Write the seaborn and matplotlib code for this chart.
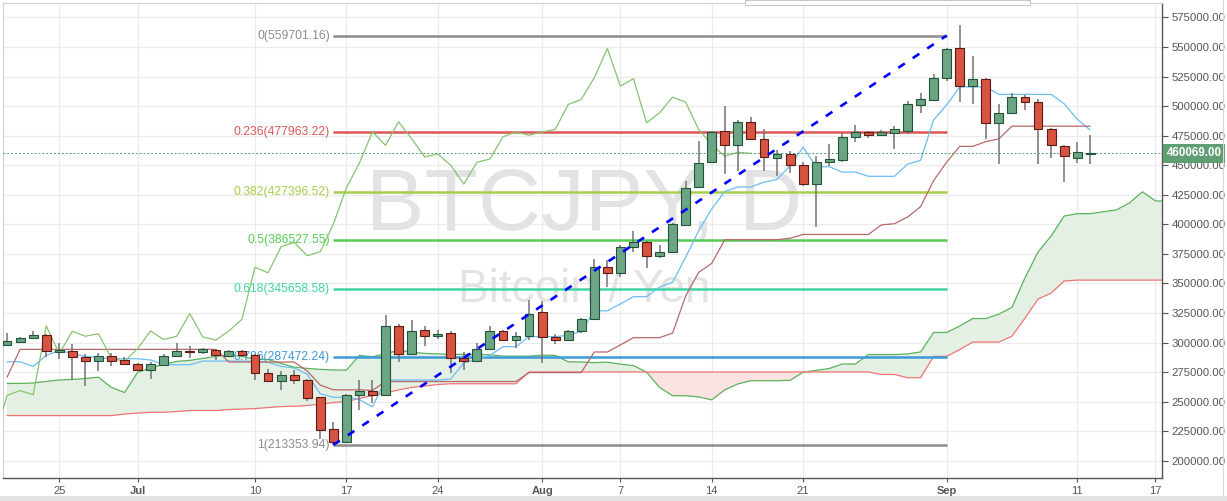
import numpy as np
import pandas as pd
import matplotlib
matplotlib.use("Agg")
import matplotlib.pyplot as plt
import matplotlib.transforms as mtransforms
from matplotlib.patches import Rectangle
from matplotlib.lines import Line2D
from matplotlib import font_manager
import seaborn as sns

# ---------------- data (prices in thousand JPY) ----------------
start_date = "2017-06-21"
opens = [298.0, 300.4, 303.6, 306.4, 292.0, 293.1, 287.7, 284.3, 288.5, 285.5,
         282.1, 277.0, 281.2, 288.5, 293.1, 292.0, 294.0, 288.5, 292.8, 289.1,
         274.5, 267.1, 272.8, 267.9, 253.7, 226.9, 216.1, 255.2, 259.4, 255.8,
         314.0, 290.6, 310.4, 305.3, 308.4, 287.2, 284.0, 294.8, 309.8, 301.9,
         305.3, 325.4, 304.4, 301.9, 309.8, 319.7, 363.6, 358.5, 381.1, 384.8,
         373.4, 376.8, 399.5, 431.2, 452.7, 478.7, 466.8, 486.7, 472.5, 456.1,
         459.5, 450.0, 434.0, 452.4, 454.7, 474.0, 478.2, 475.3, 477.4, 478.7,
         500.8, 505.0, 524.0, 549.5, 516.9, 523.2, 485.9, 494.3, 507.6, 503.3,
         480.7, 466.6, 456.1, 459.5]
highs = [307.8, 305.0, 309.8, 307.5, 299.9, 299.1, 290.6, 291.4, 291.4, 287.7,
         282.5, 283.5, 290.0, 299.6, 297.0, 295.5, 294.8, 294.0, 294.0, 290.0,
         277.8, 275.6, 277.0, 268.8, 254.0, 232.5, 256.6, 267.9, 268.0, 323.1,
         315.5, 318.9, 313.8, 310.4, 309.5, 292.0, 299.6, 313.8, 311.0, 308.9,
         335.8, 335.0, 307.5, 310.4, 321.1, 370.6, 369.8, 382.5, 394.7, 385.5,
         382.5, 401.0, 436.3, 470.2, 479.0, 499.9, 488.6, 490.9, 480.7, 463.2,
         461.7, 453.0, 457.5, 468.3, 477.4, 483.6, 479.0, 480.0, 483.0, 504.2,
         510.7, 526.9, 549.5, 568.5, 542.4, 524.0, 501.4, 511.3, 509.0, 506.2,
         481.6, 467.4, 469.4, 475.9]
lows = [297.0, 300.0, 303.0, 287.4, 286.0, 268.5, 262.8, 275.6, 280.4, 280.6,
        276.0, 269.0, 280.6, 287.7, 287.2, 290.6, 285.5, 288.0, 288.0, 268.5,
        267.0, 260.0, 265.0, 250.9, 218.4, 213.4, 215.0, 242.5, 248.6, 255.0,
        283.5, 289.1, 297.0, 302.7, 274.1, 276.4, 283.5, 294.0, 301.0, 295.7,
        301.9, 282.9, 299.0, 301.0, 308.0, 319.0, 347.1, 355.6, 376.8, 363.3,
        371.2, 376.0, 399.0, 430.7, 452.0, 442.5, 444.8, 471.1, 444.8, 440.5,
        443.4, 432.0, 397.5, 449.6, 452.4, 469.7, 472.7, 474.6, 463.8, 476.6,
        494.3, 504.2, 521.0, 503.7, 502.0, 472.3, 451.3, 492.9, 497.1, 451.3,
        456.1, 435.4, 451.9, 451.3]
closes = [301.0, 303.8, 306.7, 292.8, 294.0, 287.7, 284.3, 288.9, 284.3, 282.1,
          276.7, 281.5, 288.5, 292.8, 292.0, 294.2, 289.1, 292.8, 289.4, 274.1,
          267.1, 272.8, 267.9, 253.2, 226.3, 216.1, 255.2, 259.4, 255.8, 314.0,
          290.6, 309.5, 305.3, 307.5, 286.8, 284.0, 294.8, 309.8, 302.5, 305.3,
          324.5, 304.7, 302.1, 309.8, 319.7, 363.6, 359.0, 381.1, 384.8, 373.4,
          376.8, 400.1, 430.7, 451.9, 478.2, 466.8, 486.7, 472.5, 457.0, 459.5,
          449.9, 434.0, 452.4, 455.3, 474.0, 478.2, 475.3, 478.2, 480.2, 501.4,
          505.6, 524.0, 548.7, 516.9, 523.2, 485.9, 494.3, 507.6, 503.3, 480.2,
          467.4, 457.5, 460.9, 460.069]

tenkan = [283.7, 283.7, 279.8, 289.1, 293.4, 290.6, 288.3, 287.4, 286.3, 286.3,
          286.3, 285.2, 281.4, 281.2, 281.2, 284.3, 284.3, 284.3, 284.3, 284.1,
          283.3, 279.8, 278.5, 273.2, 256.6, 253.7, 253.7, 251.7, 245.6, 268.3,
          268.3, 268.3, 268.3, 268.3, 269.1, 282.8, 285.9, 289.1, 296.5, 296.5,
          305.0, 305.0, 305.0, 306.1, 309.4, 326.8, 326.8, 332.7, 338.8, 338.8,
          346.9, 351.0, 372.2, 394.6, 413.1, 427.8, 431.6, 431.6, 435.6, 438.0,
          449.5, 465.3, 448.7, 448.7, 444.2, 444.2, 440.6, 440.6, 440.6, 450.9,
          454.1, 488.3, 501.0, 516.2, 516.2, 516.2, 509.9, 509.9, 509.9, 509.9,
          509.9, 502.0, 488.9, 479.7]
kijun = [270.7, 294.2, 294.2, 294.2, 294.2, 294.2, 294.2, 294.2, 294.2, 294.2,
         294.2, 294.2, 294.2, 294.2, 294.2, 294.2, 294.2, 283.5, 283.5, 283.5,
         283.5, 283.5, 283.5, 276.0, 264.0, 260.0, 260.0, 260.0, 259.5, 267.0,
         267.0, 267.0, 267.0, 267.0, 267.0, 267.0, 267.0, 267.0, 267.0, 267.0,
         274.6, 274.6, 274.6, 274.6, 274.6, 292.0, 292.0, 298.0, 304.1, 304.1,
         304.1, 308.0, 339.4, 359.4, 367.0, 387.0, 387.0, 387.0, 387.0, 387.0,
         388.2, 391.4, 391.4, 391.4, 391.4, 391.4, 391.4, 399.5, 400.5, 406.1,
         414.9, 437.0, 452.6, 465.9, 465.9, 469.9, 472.3, 483.0, 483.0, 483.0,
         483.0, 483.0, 483.0, 483.0]
senkou_a = [265.4, 265.4, 265.8, 267.1, 268.3, 268.8, 269.6, 270.7, 262.0, 257.7,
            274.7, 278.5, 281.5, 284.0, 284.9, 286.6, 288.3, 289.6, 288.3, 285.7,
            285.7, 282.3, 279.2, 278.1, 277.3, 276.8, 276.6, 289.1, 288.0, 290.6,
            293.4, 291.9, 290.8, 290.4, 290.0, 290.0, 290.0, 289.7, 288.5, 288.5,
            288.5, 289.3, 289.1, 283.7, 283.5, 283.0, 283.4, 281.7, 280.5, 275.0,
            262.0, 255.0, 255.0, 254.0, 251.5, 260.0, 265.0, 267.7, 267.7, 267.7,
            268.0, 274.9, 276.5, 278.0, 281.8, 281.8, 289.8, 289.8, 289.8, 290.4,
            292.0, 308.5, 308.5, 314.0, 320.3, 320.3, 324.0, 329.8, 354.7, 376.6,
            390.1, 407.0, 409.0, 409.0, 410.6, 412.2, 418.0, 427.5, 419.8, 419.5]
senkou_b = [238.2, 238.2, 238.2, 238.2, 238.2, 238.2, 238.2, 238.2, 238.2, 239.5,
            240.3, 241.0, 241.0, 241.6, 242.5, 242.5, 242.5, 243.3, 243.7, 244.1,
            245.0, 245.8, 246.1, 246.7, 247.9, 249.2, 250.1, 252.6, 255.2, 257.3,
            259.9, 262.0, 263.2, 264.5, 265.1, 265.1, 265.1, 265.1, 265.1, 265.1,
            275.1, 275.1, 275.1, 275.1, 275.1, 275.1, 275.1, 275.1, 275.1, 275.1,
            275.1, 275.1, 275.1, 275.1, 275.1, 275.1, 275.1, 275.1, 275.1, 275.1,
            275.1, 275.1, 275.1, 275.1, 275.1, 275.1, 275.1, 273.0, 273.0, 270.2,
            270.2, 288.3, 288.3, 294.0, 300.4, 300.4, 300.4, 305.3, 320.6, 336.7,
            341.8, 352.0, 352.8, 352.8, 352.8, 352.8, 352.8, 352.8, 352.8, 352.8]

fib_ratios = ["0", "0.236", "0.382", "0.5", "0.618", "0.786", "1"]
fib_prices = [559701.16, 477963.22, 427396.52, 386527.55, 345658.58, 287472.24, 213353.94]
fib_colors = ["#8c8c8c", "#dc5656", "#a6cf4c", "#55cc55", "#40d4a2", "#3b9ad8", "#8c8c8c"]
fib_start_date = "2017-07-16"
fib_end_date = "2017-09-01"

tick_dates = ["2017-06-25", "2017-07-01", "2017-07-10", "2017-07-17", "2017-07-24",
              "2017-08-01", "2017-08-07", "2017-08-14", "2017-08-21", "2017-09-01",
              "2017-09-11", "2017-09-17"]
tick_labels = ["25", "Jul", "10", "17", "24", "Aug", "7", "14", "21", "Sep", "11", "17"]
month_labels = ["Jul", "Aug", "Sep"]

last_price = 460069.00
watermark_title = "BTCJPY, D"
watermark_sub = "Bitcoin / Yen"

# ---------------- setup ----------------
sns.set_theme(style="white")
plt.rcParams["font.family"] = ["Liberation Sans", "DejaVu Sans"]

K = 1000.0
o = np.array(opens) * K
h = np.array(highs) * K
l = np.array(lows) * K
c = np.array(closes) * K
n = len(o)
dates = pd.date_range(start_date, periods=n, freq="D")
t0 = pd.Timestamp(start_date)
idx = np.arange(n)
idx_ext = np.arange(len(senkou_a))
sa = np.array(senkou_a) * K
sb = np.array(senkou_b) * K

def pos(d):
    return (pd.Timestamp(d) - t0).days

W, H = 1227, 501
fig = plt.figure(figsize=(W / 100, H / 100), dpi=100)
fig.patch.set_facecolor("white")
ax = fig.add_axes([3 / W, 23 / H, 1159 / W, 475 / H])
ax.set_facecolor("white")
ax.set_xlim(-0.31, 88.5)
ax.set_ylim(185400, 587200)

# grid
yt = np.arange(200000, 575001, 25000)
xt = [pos(d) for d in tick_dates]
for v in yt:
    ax.axhline(v, color="#ebebeb", lw=0.9, zorder=0)
for v in xt:
    ax.axvline(v, color="#ebebeb", lw=0.9, zorder=0)

# watermark
avail = {f.name for f in font_manager.fontManager.ttflist}
if "Liberation Sans Narrow" in avail:
    wm_fam, wm_size = "Liberation Sans Narrow", 74
else:
    wm_fam, wm_size = "Liberation Sans", 63
ax.text(44.2, 413800, watermark_title, fontsize=wm_size, family=wm_fam,
        color="#e3e3e3", ha="center", va="center", zorder=0.5)
ax.text(44.2, 344400, watermark_sub, fontsize=33, family="Liberation Sans",
        color="#e3e3e3", ha="center", va="center", zorder=0.5)

# ichimoku cloud
ax.fill_between(idx_ext, sa, sb, where=sa >= sb, interpolate=True,
                color="#e3f0e3", lw=0, zorder=1.5)
ax.fill_between(idx_ext, sa, sb, where=sa < sb, interpolate=True,
                color="#fde2e2", lw=0, zorder=1.5)
sns.lineplot(x=idx_ext, y=sa, ax=ax, color="#5cb35c", lw=0.9, zorder=2, legend=False)
sns.lineplot(x=idx_ext, y=sb, ax=ax, color="#f07474", lw=0.9, zorder=2, legend=False)

# fib retracement
fs, fe = pos(fib_start_date), pos(fib_end_date)
for r, p, col in zip(fib_ratios, fib_prices, fib_colors):
    ax.hlines(p, fs, fe, color=col, lw=1.8, zorder=2.5)
    ax.text(fs - 0.25, p, f"{r}({p:.2f})", color=col, fontsize=8.7,
            ha="right", va="center", zorder=2.6)

# other ichimoku lines
sns.lineplot(x=idx, y=np.array(tenkan) * K, ax=ax, color="#6cbdf5", lw=0.9, zorder=3, legend=False)
sns.lineplot(x=idx, y=np.array(kijun) * K, ax=ax, color="#b96868", lw=0.9, zorder=3, legend=False)
sns.lineplot(x=idx[25:] - 26, y=c[25:], ax=ax, color="#86c46f", lw=0.9, zorder=3, legend=False)

# current price line
ax.axhline(last_price, color="#4e9a66", lw=0.7, ls=(0, (2, 2)), zorder=3.5)

# candles
up = c >= o
ax.vlines(idx, l, h, color="#737375", lw=1.1, zorder=4)
ax.bar(idx[up], (c - o)[up], bottom=o[up], width=0.68, color="#6ba583",
       edgecolor="#225437", lw=0.8, zorder=5)
ax.bar(idx[~up], (o - c)[~up], bottom=c[~up], width=0.68, color="#d75442",
       edgecolor="#5b1a13", lw=0.8, zorder=5)

# trend line of fib
ax.plot([fs, fe], [fib_prices[-1], fib_prices[0]], color="#0000ff", lw=1.9,
        ls=(0, (3, 3.6)), zorder=6)

# axes styling
ax.set_xticks(xt)
ax.set_xticklabels(tick_labels)
for tl in ax.get_xticklabels():
    if tl.get_text() in month_labels:
        tl.set_fontweight("bold")
ax.set_yticks(yt)
ax.set_yticklabels([f"{v:.2f}" for v in yt])
ax.yaxis.tick_right()
ax.tick_params(axis="y", which="both", right=True, left=False, labelright=True,
               labelleft=False, length=4, width=0.8, pad=3, labelsize=8.2,
               colors="#555555")
ax.tick_params(axis="x", bottom=True, length=3, width=0.8, pad=3, labelsize=8,
               colors="#555555")
ax.grid(False)
for s in ["top", "left"]:
    ax.spines[s].set_color("#d0d0d0")
    ax.spines[s].set_linewidth(0.8)
for s in ["right", "bottom"]:
    ax.spines[s].set_color("#555555")
    ax.spines[s].set_linewidth(1.0)

# last price label
trans = mtransforms.blended_transform_factory(ax.transAxes, ax.transData)
ax.text(1.004, last_price, f"{last_price:.2f}", transform=trans, ha="left",
        va="center", fontsize=8.3, fontweight="bold", color="white",
        bbox=dict(boxstyle="square,pad=0.3", fc="#5f9e72", ec="none"),
        zorder=10, clip_on=False)

# frame decorations
fig.patches.append(Rectangle((0, 0), 1, 5 / H, transform=fig.transFigure,
                             fc="#e2e2e2", ec="none"))
fig.patches.append(Rectangle((745 / W, 1 - 5 / H), 285 / W, 5 / H,
                             transform=fig.transFigure, fc="white",
                             ec="#c8c8c8", lw=0.8))
fig.lines.append(Line2D([1223 / W, 1223 / W], [5 / H, 1], transform=fig.transFigure,
                        color="#d8d8d8", lw=0.8))

fig.savefig("out.png", dpi=100)
